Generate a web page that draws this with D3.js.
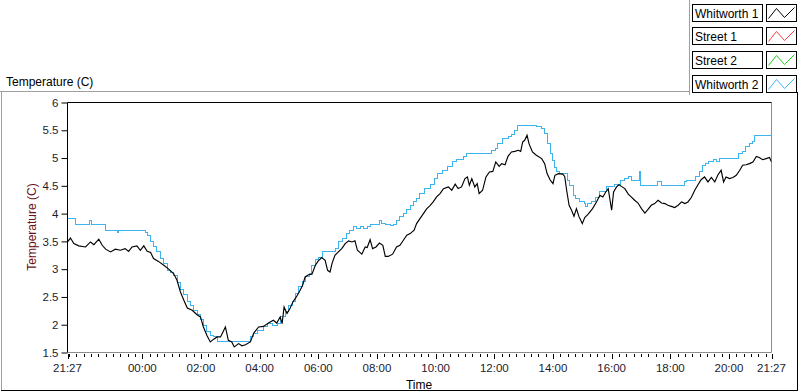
<!DOCTYPE html>
<html><head><meta charset="utf-8">
<script src="https://cdn.jsdelivr.net/npm/d3@7"></script>
<style>
body{margin:0;background:#fff;}
svg{display:block;font-family:"Liberation Sans",Arial,sans-serif;}
</style></head><body>
<svg id="c" width="800" height="392"></svg>
<script>
// ---- data ----
const seriesNames = ["Whitworth 1", "Street 1", "Street 2", "Whitworth 2"];
const seriesColors = ["#000000", "#ff3b3b", "#19d219", "#3cb4f0"];
const yTicks = [1.5, 2, 2.5, 3, 3.5, 4, 4.5, 5, 5.5, 6];
const xTickLabels = ["21:27","00:00","02:00","04:00","06:00","08:00","10:00","12:00","14:00","16:00","18:00","20:00","21:27"];
const startClock = "21:27";
// [minutes since 21:27, temperature]
const whitworth1 = [[0,3.49],[6,3.56],[13,3.46],[23,3.42],[37,3.40],[47,3.49],[54,3.44],[64,3.54],[71,3.43],[78,3.36],[88,3.31],[98,3.36],[108,3.34],[118,3.37],[125,3.32],[132,3.40],[142,3.42],[149,3.34],[156,3.42],[163,3.32],[170,3.30],[176,3.19],[186,3.14],[197,3.07],[207,3.00],[217,2.92],[224,2.80],[231,2.59],[238,2.44],[245,2.30],[255,2.26],[265,2.18],[272,2.14],[278,1.96],[285,1.81],[292,1.69],[299,1.74],[306,1.78],[313,1.78],[318,1.87],[323,1.96],[329,1.72],[336,1.69],[341,1.60],[350,1.66],[357,1.62],[364,1.64],[374,1.69],[381,1.85],[391,1.96],[401,1.97],[411,2.03],[421,2.08],[428,2.03],[435,2.14],[439,2.02],[443,2.32],[449,2.20],[455,2.29],[461,2.41],[468,2.50],[474,2.59],[481,2.71],[486,2.86],[493,2.90],[500,2.91],[507,3.07],[513,3.15],[520,3.21],[527,3.16],[532,2.98],[537,2.95],[541,3.10],[547,3.25],[554,3.31],[561,3.37],[568,3.46],[575,3.51],[582,3.49],[588,3.51],[593,3.34],[602,3.27],[609,3.40],[613,3.39],[619,3.53],[624,3.37],[631,3.40],[638,3.47],[645,3.43],[650,3.23],[656,3.23],[665,3.27],[673,3.40],[680,3.43],[687,3.52],[694,3.61],[701,3.64],[709,3.70],[714,3.82],[721,3.91],[728,4.00],[735,4.09],[741,4.14],[748,4.21],[755,4.30],[762,4.36],[769,4.45],[779,4.48],[786,4.42],[793,4.53],[799,4.45],[806,4.48],[813,4.63],[818,4.66],[822,4.51],[827,4.63],[833,4.48],[838,4.54],[842,4.36],[849,4.42],[856,4.66],[863,4.75],[870,4.76],[876,4.93],[883,4.85],[888,4.90],[895,4.88],[901,5.03],[908,5.11],[915,5.12],[922,5.14],[927,5.12],[931,5.29],[935,5.32],[940,5.41],[944,5.26],[951,5.11],[959,5.05],[970,4.99],[976,4.90],[981,4.72],[987,4.61],[993,4.54],[997,4.69],[1004,4.72],[1013,4.71],[1017,4.67],[1021,4.42],[1026,4.15],[1031,4.06],[1036,3.95],[1041,4.09],[1046,3.95],[1053,3.82],[1058,3.93],[1065,3.99],[1074,4.09],[1082,4.21],[1089,4.33],[1095,4.30],[1101,4.39],[1106,4.45],[1113,4.06],[1117,4.39],[1123,4.48],[1128,4.52],[1133,4.49],[1140,4.45],[1147,4.35],[1153,4.30],[1160,4.24],[1167,4.19],[1174,4.09],[1181,4.01],[1187,4.07],[1194,4.15],[1201,4.18],[1208,4.24],[1215,4.19],[1222,4.18],[1228,4.15],[1235,4.13],[1242,4.11],[1249,4.15],[1256,4.21],[1263,4.18],[1269,4.21],[1276,4.29],[1283,4.42],[1289,4.51],[1296,4.61],[1303,4.66],[1310,4.57],[1317,4.65],[1324,4.57],[1330,4.69],[1337,4.78],[1342,4.57],[1347,4.66],[1354,4.63],[1361,4.65],[1368,4.69],[1375,4.78],[1381,4.87],[1388,4.88],[1395,4.90],[1402,4.93],[1409,5.03],[1415,5.01],[1422,4.97],[1429,4.99],[1436,5.01],[1440,4.93]];
const street1 = [];
const street2 = [];
const whitworth2 = [[0,3.92],[16,3.80],[46,3.87],[49,3.80],[78,3.70],[102,3.66],[105,3.70],[160,3.66],[164,3.61],[170,3.49],[176,3.40],[183,3.31],[190,3.19],[197,3.10],[204,2.98],[211,2.94],[217,2.89],[224,2.76],[231,2.64],[238,2.54],[245,2.42],[251,2.35],[258,2.26],[265,2.18],[272,2.10],[279,1.99],[285,1.88],[292,1.81],[299,1.78],[306,1.70],[345,1.69],[375,1.78],[381,1.85],[388,1.90],[401,1.96],[409,2.02],[419,1.99],[429,2.02],[436,2.14],[446,2.23],[453,2.35],[460,2.41],[466,2.56],[473,2.68],[480,2.77],[487,2.87],[494,2.92],[500,3.07],[507,3.17],[514,3.21],[521,3.31],[548,3.37],[554,3.49],[562,3.55],[570,3.64],[576,3.70],[585,3.77],[592,3.73],[599,3.77],[606,3.73],[613,3.77],[619,3.81],[638,3.88],[643,3.83],[650,3.80],[660,3.78],[667,3.81],[673,3.88],[680,3.94],[687,4.00],[694,4.07],[701,4.15],[708,4.21],[714,4.27],[721,4.36],[731,4.45],[743,4.53],[750,4.63],[757,4.72],[767,4.78],[777,4.85],[787,4.93],[795,4.97],[810,5.02],[817,5.09],[868,5.14],[876,5.17],[880,5.26],[890,5.35],[902,5.39],[908,5.42],[915,5.50],[921,5.59],[960,5.56],[970,5.53],[976,5.44],[982,5.26],[988,5.08],[993,4.96],[997,4.83],[1001,4.76],[1007,4.73],[1016,4.72],[1023,4.60],[1027,4.51],[1034,4.33],[1040,4.27],[1048,4.21],[1058,4.19],[1060,4.12],[1064,4.18],[1072,4.21],[1081,4.29],[1089,4.39],[1102,4.49],[1119,4.53],[1131,4.60],[1140,4.63],[1147,4.67],[1153,4.60],[1169,4.75],[1172,4.51],[1206,4.57],[1215,4.51],[1262,4.57],[1267,4.60],[1284,4.66],[1292,4.75],[1298,4.87],[1305,4.91],[1312,4.93],[1322,4.97],[1328,4.93],[1334,4.99],[1373,5.08],[1380,5.11],[1387,5.21],[1394,5.26],[1401,5.30],[1406,5.41],[1440,5.41]];

// ---- layout ----
const svg = d3.select("#c");
const P = {l: 67.5, r: 771.5, t: 102.5, b: 352.5};
const t0 = new Date(2020, 0, 1, 21, 27);
const toDate = m => new Date(t0.getTime() + m * 60000);
const x = d3.scaleTime().domain([t0, toDate(1440)]).range([P.l, P.r]);
const y = d3.scaleLinear().domain([1.5, 6]).range([P.b, P.t]);

// outer frame
svg.append("line").attr("x1",0).attr("x2",689.5).attr("y1",91.5).attr("y2",91.5).attr("stroke","#a0a0a0");
svg.append("line").attr("x1",1.5).attr("x2",1.5).attr("y1",91.5).attr("y2",390).attr("stroke","#a0a0a0");
svg.append("line").attr("x1",1).attr("x2",798).attr("y1",390.5).attr("y2",390.5).attr("stroke","#000");
svg.append("line").attr("x1",797.5).attr("x2",797.5).attr("y1",92).attr("y2",391).attr("stroke","#000");
svg.append("line").attr("x1",689.5).attr("x2",689.5).attr("y1",0).attr("y2",95).attr("stroke","#a0a0a0");

svg.append("text").attr("x",6).attr("y",86).attr("font-size",12).attr("fill","#000").text("Temperature (C)");

// plot box
svg.append("rect").attr("x",P.l).attr("y",P.t).attr("width",P.r-P.l).attr("height",P.b-P.t).attr("fill","#fff");
svg.append("line").attr("x1",P.l).attr("x2",P.r).attr("y1",P.b).attr("y2",P.b).attr("stroke","#8c8c8c");
svg.append("line").attr("x1",P.r).attr("x2",P.r).attr("y1",P.t).attr("y2",P.b).attr("stroke","#8c8c8c");

// series
svg.append("clipPath").attr("id","pc").append("rect").attr("x",P.l).attr("y",P.t).attr("width",P.r-P.l).attr("height",P.b-P.t);
const g = svg.append("g").attr("clip-path","url(#pc)");
const stepLine = d3.line().x(d => x(toDate(d[0]))).y(d => y(d[1])).curve(d3.curveStepAfter);
const line = d3.line().x(d => x(toDate(d[0]))).y(d => y(d[1]));
g.append("path").datum(whitworth2).attr("d", stepLine).attr("fill","none").attr("stroke",seriesColors[3]).attr("stroke-width",1).attr("shape-rendering","crispEdges");
g.append("path").datum(whitworth1).attr("d", line).attr("fill","none").attr("stroke",seriesColors[0]).attr("stroke-width",1.15);

svg.append("line").attr("x1",P.l).attr("x2",P.r).attr("y1",P.t).attr("y2",P.t).attr("stroke","#000");
svg.append("line").attr("x1",P.l).attr("x2",P.l).attr("y1",P.t).attr("y2",P.b).attr("stroke","#000");

// y axis
const yAx = svg.append("g").attr("transform",`translate(${P.l},0)`)
  .call(d3.axisLeft(y).tickValues(yTicks).tickSize(6).tickPadding(3).tickFormat(d => String(d)));
yAx.select(".domain").remove();
yAx.selectAll("text").attr("font-size",11.5).attr("fill","#1c1c30").attr("font-family","Liberation Sans, Arial");
yAx.selectAll("line").attr("stroke","#000");

// x axis
const clockToMin = (s, i) => {
  const [h, m] = s.split(":").map(Number);
  const [h0, m0] = startClock.split(":").map(Number);
  let v = ((h*60+m) - (h0*60+m0) + 1440) % 1440;
  if (i === xTickLabels.length - 1) v = 1440;
  return v;
};
const majorMins = xTickLabels.map(clockToMin);
const minorMins = d3.range(3, 1440, 15);
const xg = svg.append("g");
xg.selectAll("line.mn").data(minorMins).join("line").attr("class","mn")
  .attr("x1", d => Math.round(x(toDate(d))) + 0.5).attr("x2", d => Math.round(x(toDate(d))) + 0.5)
  .attr("y1", P.b + 1.5).attr("y2", P.b + 4.5).attr("stroke","#000");
xg.selectAll("line.mj").data(majorMins).join("line").attr("class","mj")
  .attr("x1", d => Math.round(x(toDate(d))) + 0.5).attr("x2", d => Math.round(x(toDate(d))) + 0.5)
  .attr("y1", P.b + 1.5).attr("y2", P.b + 6.5).attr("stroke","#000");
xg.selectAll("text").data(xTickLabels).join("text")
  .attr("x", (d,i) => x(toDate(majorMins[i]))).attr("y", 372)
  .attr("text-anchor","middle").attr("font-size",11.5).attr("fill","#1c1c30").text(d => d);

svg.append("text").attr("x",419).attr("y",389).attr("text-anchor","middle").attr("font-size",12).attr("fill","#000").text("Time");
svg.append("text").attr("transform","translate(36,227) rotate(-90)").attr("text-anchor","middle")
  .attr("font-size",12).attr("fill","#6a1020").text("Temperature (C)");

// legend
const lg = svg.append("g");
seriesNames.forEach((name, i) => {
  const top = 3.5 + i * 23.7;
  const row = lg.append("g").attr("transform", `translate(0,${Math.round(top)+0.5})`);
  row.append("rect").attr("x",692.5).attr("y",0).attr("width",70).attr("height",17).attr("fill","#fff").attr("stroke","#000");
  row.append("text").attr("x",695).attr("y",13.5).attr("font-size",12).attr("fill","#000").text(name);
  row.append("rect").attr("x",766.5).attr("y",0).attr("width",30).attr("height",17).attr("fill","#fff").attr("stroke","#000");
  row.append("polyline").attr("points",[[768.5,14],[776.5,4],[784.5,13],[794.5,3]].map(p=>p.join(",")).join(" "))
    .attr("fill","none").attr("stroke",seriesColors[i]).attr("stroke-width",1);
});
</script>
</body></html>
